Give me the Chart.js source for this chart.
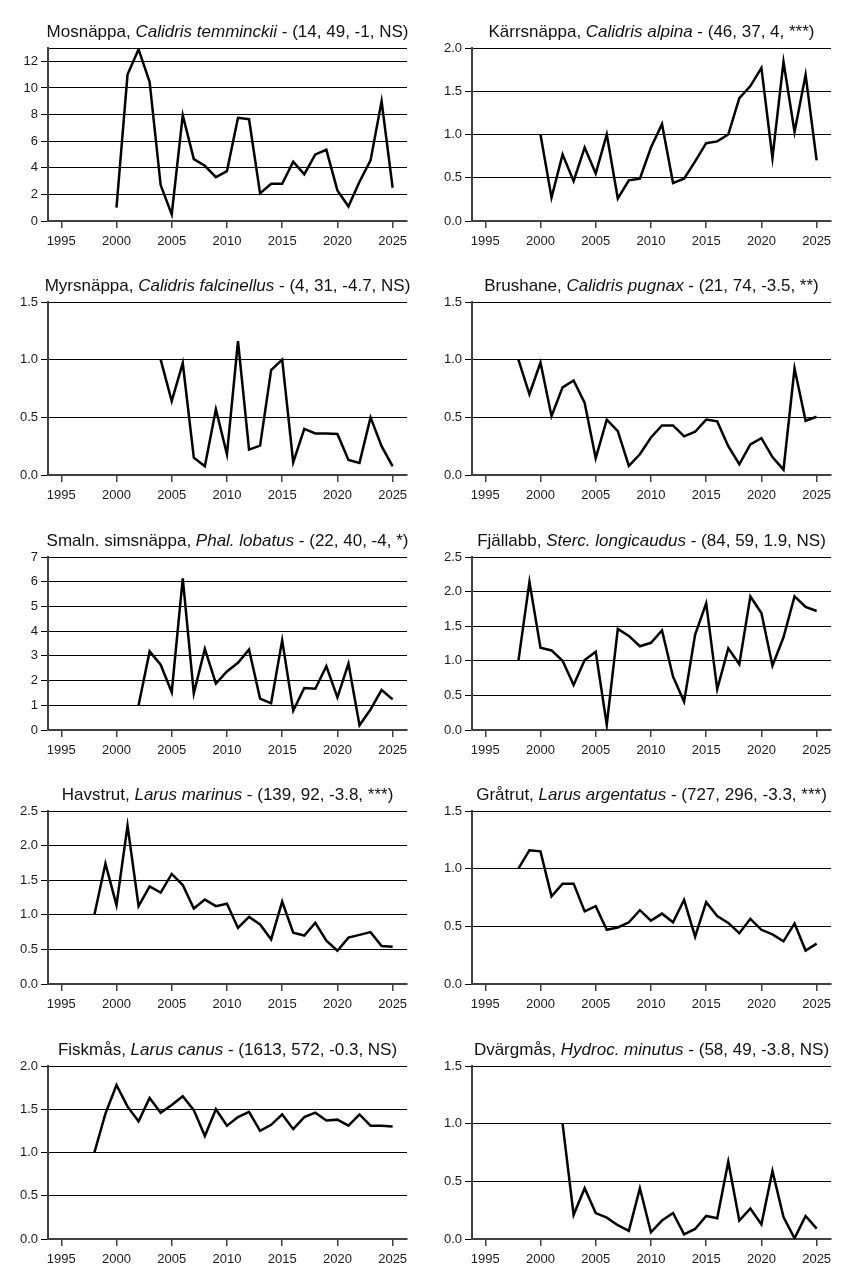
<!DOCTYPE html>
<html>
<head>
<meta charset="utf-8">
<script src="https://cdn.jsdelivr.net/npm/chart.js@4.4.1/dist/chart.umd.min.js"></script>
<style>
    body { margin: 0; background: #fff; }
    #page { position: relative; width: 848px; height: 1272px; }
    .panel { position: absolute; width: 424px; height: 254px; }
    .panel canvas { position: absolute; left: 0; top: 0; }
    .title {
        position: absolute; top: 22px; white-space: nowrap;
        transform: translateX(-50%);
        font-family: "Liberation Sans", Arial, sans-serif; font-size: 17px; line-height: 19px; color: #111;
    }
</style>
</head>
<body>
<div id="page"></div>
<script>
var years = [1998, 1999, 2000, 2001, 2002, 2003, 2004, 2005, 2006, 2007, 2008, 2009, 2010, 2011,
    2012, 2013, 2014, 2015, 2016, 2017, 2018, 2019, 2020, 2021, 2022, 2023, 2024, 2025];
var xTicks = [1995, 2000, 2005, 2010, 2015, 2020, 2025];

var names = ['Mosnäppa', 'Kärrsnäppa', 'Myrsnäppa', 'Brushane', 'Smaln. simsnäppa',
    'Fjällabb', 'Havstrut', 'Gråtrut', 'Fiskmås', 'Dvärgmås'];
var latinNames = ['Calidris temminckii', 'Calidris alpina', 'Calidris falcinellus', 'Calidris pugnax', 'Phal. lobatus',
    'Sterc. longicaudus', 'Larus marinus', 'Larus argentatus', 'Larus canus', 'Hydroc. minutus'];
var stats = ['(14, 49, -1, NS)', '(46, 37, 4, ***)', '(4, 31, -4.7, NS)', '(21, 74, -3.5, **)', '(22, 40, -4, *)',
    '(84, 59, 1.9, NS)', '(139, 92, -3.8, ***)', '(727, 296, -3.3, ***)', '(1613, 572, -0.3, NS)', '(58, 49, -3.8, NS)'];

// index värden per art, 1998-2025 (null = ingen data)
var mosnappa = [null, null, 1.0, 11.0, 12.9, 10.45, 2.7, 0.5, 7.95, 4.65, 4.15, 3.3, 3.75, 7.75,
    7.65, 2.08, 2.8, 2.8, 4.45, 3.5, 5.0, 5.35, 2.3, 1.1, 2.95, 4.55, 9.0, 2.5];
var karrsnappa = [null, null, 1.0, 0.27, 0.77, 0.46, 0.85, 0.55, 1.0, 0.26, 0.47, 0.49, 0.85, 1.12,
    0.44, 0.49, 0.69, 0.9, 0.92, 1.0, 1.42, 1.56, 1.77, 0.73, 1.84, 1.03, 1.69, 0.7];
var myrsnappa = [null, null, null, null, null, null, 1.0, 0.64, 0.97, 0.15, 0.075, 0.57, 0.18, 1.16,
    0.22, 0.255, 0.91, 1.0, 0.11, 0.40, 0.36, 0.36, 0.355, 0.13, 0.105, 0.5, 0.25, 0.075];
var brushane = [1.0, 0.70, 0.975, 0.51, 0.76, 0.82, 0.625, 0.145, 0.48, 0.38, 0.08, 0.18, 0.325, 0.43,
    0.43, 0.335, 0.375, 0.48, 0.465, 0.25, 0.093, 0.265, 0.32, 0.155, 0.046, 0.925, 0.47, 0.505];
var simsnappa = [null, null, null, null, 1.0, 3.18, 2.64, 1.53, 6.14, 1.48, 3.28, 1.88, 2.37, 2.72,
    3.26, 1.27, 1.08, 3.63, 0.78, 1.70, 1.67, 2.58, 1.32, 2.69, 0.19, 0.83, 1.62, 1.24];
var fjallabb = [1.0, 2.14, 1.19, 1.15, 1.0, 0.65, 1.01, 1.13, 0.077, 1.46, 1.36, 1.21, 1.26, 1.44,
    0.77, 0.41, 1.38, 1.83, 0.59, 1.18, 0.95, 1.93, 1.69, 0.93, 1.34, 1.93, 1.78, 1.72];
var havstrut = [1.0, 1.74, 1.14, 2.29, 1.125, 1.41, 1.32, 1.59, 1.43, 1.09, 1.22, 1.125, 1.16, 0.81,
    0.97, 0.86, 0.645, 1.19, 0.74, 0.70, 0.885, 0.625, 0.48, 0.67, 0.71, 0.75, 0.55, 0.54];
var gratrut = [1.0, 1.16, 1.15, 0.76, 0.87, 0.87, 0.63, 0.675, 0.47, 0.49, 0.535, 0.64, 0.55, 0.61,
    0.535, 0.73, 0.41, 0.71, 0.59, 0.53, 0.44, 0.565, 0.47, 0.43, 0.37, 0.525, 0.29, 0.35];
var fiskmas = [1.0, 1.45, 1.78, 1.53, 1.36, 1.63, 1.46, 1.55, 1.65, 1.49, 1.19, 1.50, 1.31, 1.41,
    1.47, 1.25, 1.32, 1.44, 1.27, 1.41, 1.46, 1.37, 1.38, 1.31, 1.44, 1.31, 1.31, 1.30];
var dvargmas = [null, null, null, null, 1.0, 0.21, 0.44, 0.225, 0.185, 0.12, 0.07, 0.44, 0.058, 0.16,
    0.225, 0.04, 0.087, 0.2, 0.18, 0.67, 0.16, 0.265, 0.127, 0.59, 0.19, 0.006, 0.2, 0.09];

var series = [mosnappa, karrsnappa, myrsnappa, brushane, simsnappa, fjallabb, havstrut, gratrut, fiskmas, dvargmas];

// y-axelns etiketter och maxvärde per panel
var yTicksInt13 = ['0', '2', '4', '6', '8', '10', '12'];
var yTicks20 = ['0.0', '0.5', '1.0', '1.5', '2.0'];
var yTicks15 = ['0.0', '0.5', '1.0', '1.5'];
var yTicksInt7 = ['0', '1', '2', '3', '4', '5', '6', '7'];
var yTicks25 = ['0.0', '0.5', '1.0', '1.5', '2.0', '2.5'];
var yTickLabels = [yTicksInt13, yTicks20, yTicks15, yTicks15, yTicksInt7, yTicks25, yTicks25, yTicks15, yTicks20, yTicks15];
var yMax = [13, 2, 1.5, 1.5, 7, 2.5, 2.5, 1.5, 2, 1.5];

var fontFamily = '"Liberation Sans", Arial, sans-serif';
var panelTops = [0, 254, 509, 763, 1018];

function generateTrendChart(idx) {
    var page = document.getElementById('page');
    var panel = document.createElement('div');
    panel.className = 'panel';
    panel.style.left = (idx % 2 === 0 ? 0 : 424) + 'px';
    panel.style.top = panelTops[Math.floor(idx / 2)] + 'px';

    var canvas = document.createElement('canvas');
    canvas.width = 424;
    canvas.height = 254;
    panel.appendChild(canvas);

    var title = document.createElement('div');
    title.className = 'title';
    title.style.left = '227.5px';
    title.innerHTML = names[idx] + ', <i>' + latinNames[idx] + '</i> - ' + stats[idx];
    panel.appendChild(title);
    page.appendChild(panel);

    var labels = yTickLabels[idx];
    var tickValues = labels.map(function (l) { return parseFloat(l); });
    var max = yMax[idx];

    var points = [];
    for (var i = 0; i < years.length; i++) {
        if (series[idx][i] !== null) {
            points.push({ x: years[i], y: series[idx][i] });
        }
    }

    new Chart(canvas.getContext('2d'), {
        type: 'line',
        data: {
            datasets: [{
                data: points,
                borderColor: '#000',
                borderWidth: 2.5,
                pointRadius: 0,
                tension: 0,
                fill: false
            }]
        },
        options: {
            responsive: false,
            animation: false,
            layout: { padding: { top: 48, right: 17, left: 0, bottom: 0 } },
            plugins: { legend: { display: false }, title: { display: false }, tooltip: { enabled: false } },
            scales: {
                x: {
                    type: 'linear',
                    min: 1993.8,
                    max: 2026.3,
                    afterFit: function (scale) { scale.height = 33; },
                    afterBuildTicks: function (scale) {
                        scale.ticks = xTicks.map(function (v) { return { value: v }; });
                    },
                    grid: { drawOnChartArea: false, drawTicks: true, tickLength: 7, color: '#404040', lineWidth: 1.5 },
                    border: { color: '#404040', width: 2 },
                    ticks: {
                        autoSkip: false, maxRotation: 0, padding: 6, color: '#1a1a1a',
                        font: { family: fontFamily, size: 13 },
                        callback: function (value) { return String(value); }
                    }
                },
                y: {
                    min: 0,
                    max: max,
                    afterFit: function (scale) { scale.width = 48; },
                    afterBuildTicks: function (scale) {
                        var t = tickValues.map(function (v) { return { value: v }; });
                        if (tickValues.indexOf(max) < 0) t.push({ value: max });
                        scale.ticks = t;
                    },
                    grid: {
                        drawTicks: true, tickLength: 7, color: '#000', lineWidth: 1,
                        tickColor: function (ctx) {
                            // ingen tick-markering för toppramen
                            return ctx.tick && tickValues.indexOf(ctx.tick.value) < 0 ? 'rgba(0,0,0,0)' : '#000';
                        }
                    },
                    border: { color: '#404040', width: 2 },
                    ticks: {
                        padding: 3, color: '#1a1a1a',
                        font: { family: fontFamily, size: 13 },
                        callback: function (value) {
                            var k = tickValues.indexOf(value);
                            return k >= 0 ? labels[k] : '';
                        }
                    }
                }
            }
        }
    });
}

for (var p = 0; p < series.length; p++) {
    generateTrendChart(p);
}
</script>
</body>
</html>
